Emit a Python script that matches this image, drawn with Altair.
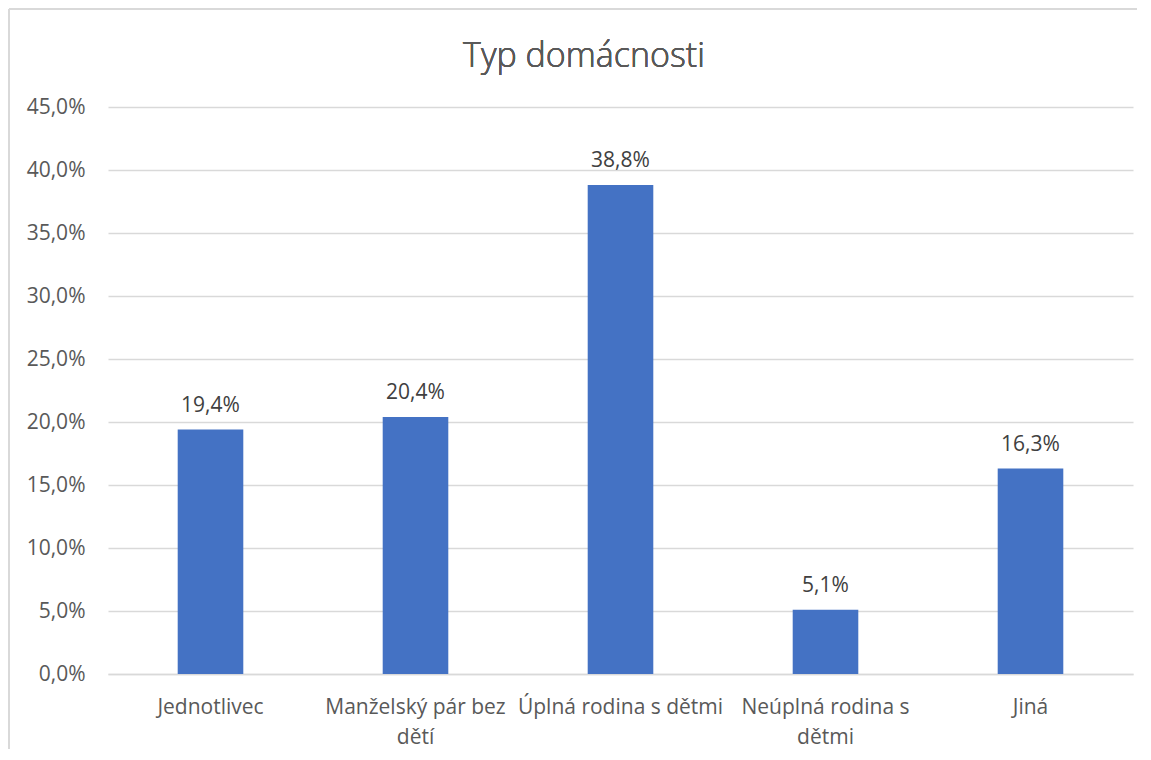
import altair as alt
import pandas as pd

categories = ["Jednotlivec", "Manželský pár bez|dětí", "Úplná rodina s dětmi", "Neúplná rodina s|dětmi", "Jiná"]
values = [0.194, 0.204, 0.388, 0.051, 0.163]
y_ticks = [0.0, 0.05, 0.10, 0.15, 0.20, 0.25, 0.30, 0.35, 0.40, 0.45]

df = pd.DataFrame({"cat": categories, "val": values})

FONT = "Open Sans"
GRID = "#d9d9d9"
TXT = "#595959"
FS = 21

x_enc = alt.X(
    "cat:N",
    sort=categories,
    scale=alt.Scale(paddingInner=0.68, paddingOuter=0.34),
    axis=alt.Axis(
        title=None,
        labelAngle=0,
        labelExpr="split(datum.label, '|')",
        labelFontSize=FS,
        labelColor=TXT,
        labelFont=FONT,
        labelPadding=22,
        labelLineHeight=30,
        labelLimit=400,
        ticks=False,
        domainColor=GRID,
        domainWidth=1.5,
        grid=False,
    ),
)
y_enc = alt.Y(
    "val:Q",
    scale=alt.Scale(domain=[0, 0.45], nice=False),
    axis=alt.Axis(
        title=None,
        values=y_ticks,
        labelExpr="replace(format(datum.value, '.1%'), '.', ',')",
        labelFontSize=FS,
        labelColor=TXT,
        labelFont=FONT,
        labelPadding=23,
        ticks=False,
        domain=False,
        gridColor=GRID,
        gridWidth=1.5,
    ),
)

bars = alt.Chart(df).mark_bar(color="#4472C4").encode(x=x_enc, y=y_enc)

labels = alt.Chart(df).transform_calculate(
    lbl="replace(format(datum.val, '.1%'), '.', ',')"
).mark_text(dy=-18, baseline="alphabetic", fontSize=FS, font=FONT, color="#404040").encode(
    x=alt.X("cat:N", sort=categories), y="val:Q", text="lbl:N"
)

title = alt.Chart(df).mark_text(
    fontSize=34, font=FONT, fontWeight=300, color=TXT, baseline="alphabetic"
).encode(x=alt.value(476), y=alt.value(-40), text=alt.value("Typ domácnosti"))

left_border = alt.Chart(df).mark_rule(color=GRID, strokeWidth=2).encode(
    x=alt.value(-99), y=alt.value(-98), y2=alt.value(642)
)
top_border = alt.Chart(df).mark_rule(color=GRID, strokeWidth=2).encode(
    x=alt.value(-99), x2=alt.value(1029), y=alt.value(-98)
)

chart = alt.layer(left_border, top_border, bars, labels, title).properties(
    width=1025,
    height=567,
    autosize=alt.AutoSizeParams(type="none"),
    padding={"left": 100, "top": 99, "right": 4, "bottom": 76},
).configure_view(stroke=None)

chart.save("out.html", embed_options={"renderer": "svg", "actions": False})
